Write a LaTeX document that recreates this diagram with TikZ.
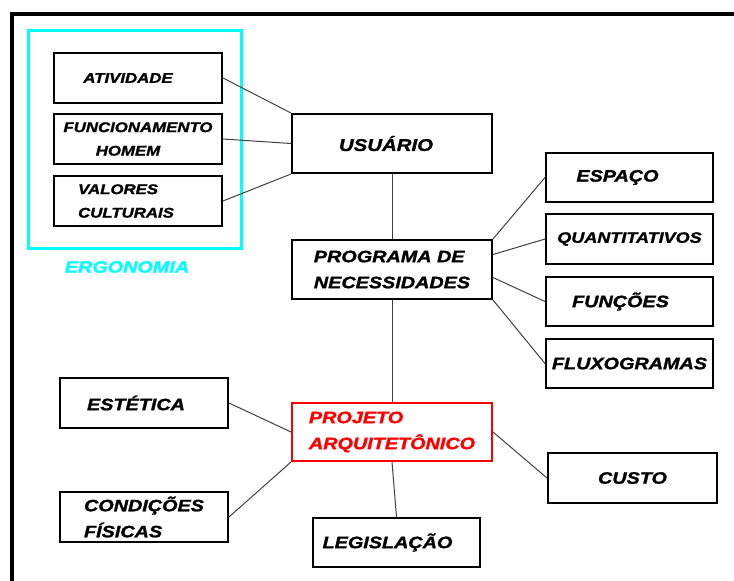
\documentclass[tikz,border=0pt]{standalone}
\usepackage{fontspec}
\setmainfont{Liberation Sans}[FakeStretch=1.2, FakeBold=1.5]
\definecolor{ergcyan}{RGB}{0,255,255}
\definecolor{projred}{RGB}{255,0,0}
\begin{document}
\begin{tikzpicture}[x=1pt,y=-1pt]
        \tikzset{
        box/.style={draw, line width=2, minimum width=168, minimum height=50, inner sep=0, align=left,
          font=\fontsize{16.5}{26}\selectfont\bfseries\itshape},
        sbox/.style={box, font=\fontsize{14}{23.5}\selectfont\bfseries\itshape},
        cbox/.style={box, minimum width=200, minimum height=59},
        pbox/.style={cbox, minimum height=58, draw=projred, text=projred},
        ergo/.style={draw=ergcyan, line width=3, minimum width=213, minimum height=218, inner sep=0},
        lbl/.style={text=ergcyan, font=\fontsize{16.5}{20}\selectfont\bfseries\itshape},
        frame/.style={line width=4, line cap=rect},
        ln/.style={-, black!75, line width=1}
        }
        \useasboundingbox (0,0) rectangle (734,581);
        \draw[frame] (11.5,581) -- (11.5,14) -- (734,14);

        \node[ergo] (ergo) at (134.5,139) {};
        \node[lbl] (ergolbl) at (127,267) {ERGONOMIA};
        \node[sbox] (ativ) at (138,78) {ATIVIDADE\hspace*{20pt}};
        \node[sbox, align=center] (func) at (138,139) {FUNCIONAMENTO\\HOMEM\hspace*{20pt}};
        \node[sbox] (valo) at (138,201) {VALORES\\CULTURAIS\hspace*{24pt}};

        \node[cbox, font=\fontsize{17}{26}\selectfont\bfseries\itshape] (usr) at (392,143.5) {USUÁRIO\hspace*{12pt}};
        \node[cbox] (prog) at (392,269.5) {PROGRAMA DE\\NECESSIDADES};
        \node[pbox] (proj) at (392,432) {PROJETO\\ARQUITETÔNICO};

        \node[box, minimum width=167, minimum height=49] (esp) at (629.5,177.5) {ESPAÇO\hspace*{24pt}};
        \node[box, minimum width=167, font=\fontsize{15}{20}\selectfont\bfseries\itshape] (quan) at (629.5,239) {QUANTITATIVOS};
        \node[box, minimum width=167, minimum height=49] (fun) at (629.5,301.5) {FUNÇÕES\hspace*{18pt}};
        \node[box, minimum width=167, minimum height=49] (flux) at (629.5,363.5) {FLUXOGRAMAS};

        \node[box] (est) at (144,403) {ESTÉTICA\hspace*{16pt}};
        \node[box] (cond) at (144,517) {CONDIÇÕES\\FÍSICAS};
        \node[box, minimum width=167, minimum height=49] (leg) at (396.5,542.5) {LEGISLAÇÃO\hspace*{18pt}};
        \node[box, minimum width=169] (cus) at (632.5,478) {CUSTO};

        \draw[ln] (ativ.east) -- (usr.north west);
        \draw[ln] (func.east) -- (usr.west);
        \draw[ln] (valo.east) -- (usr.south west);
        \draw[ln] (usr) -- (prog);
        \draw[ln] (prog.north east) -- (esp.west);
        \draw[ln] ([yshift=15pt]prog.east) -- (quan.west);
        \draw[ln] ([yshift=-8pt]prog.east) -- (fun.west);
        \draw[ln] (prog.south east) -- (flux.west);
        \draw[ln] (prog) -- (proj);
        \draw[ln] (est.east) -- (proj.west);
        \draw[ln] (cond.east) -- (proj.south west);
        \draw[ln] (proj.south) -- (leg.north);
        \draw[ln] (proj.east) -- (cus.west);
        \end{tikzpicture}
\end{document}
